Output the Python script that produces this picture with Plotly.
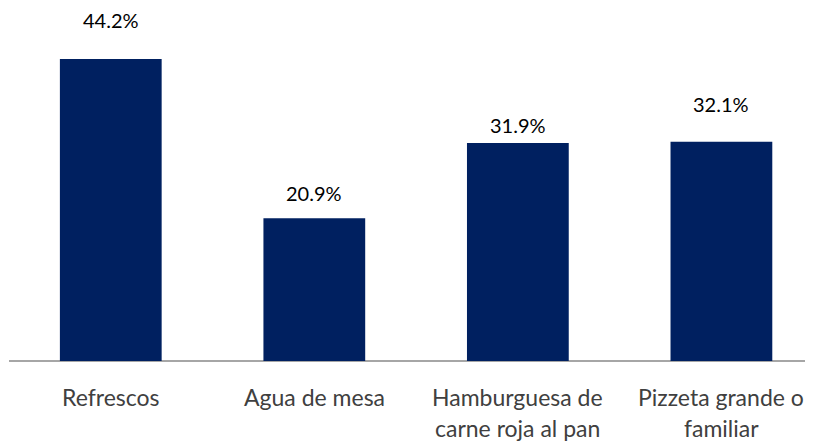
import plotly.graph_objects as go

# Datos
categorias = ["Refrescos", "Agua de mesa", "Hamburguesa de<br>carne roja al pan", "Pizzeta grande o<br>familiar"]
valores = [44.2, 20.9, 31.9, 32.1]
etiquetas = ["44.2%", "20.9%", "31.9%", "32.1%"]

# desplazamiento (px) de cada etiqueta sobre su barra
desplaz = [39, 25, 18, 38]

AZUL = "#002060"
FUENTE = "Lato"

trace = go.Bar(
    x=list(range(len(categorias))),
    y=valores,
    width=0.5,
    marker=dict(color=AZUL, line=dict(width=0)),
    hoverinfo="skip",
)

fig = go.Figure(data=[trace])

for i, (v, t, d) in enumerate(zip(valores, etiquetas, desplaz)):
    fig.add_annotation(
        x=i, y=v, text=t, showarrow=False,
        yanchor="middle", yshift=d,
        font=dict(family=FUENTE, size=20, color="#000000"),
    )
    # etiquetas de categoria, una linea por anotacion
    for j, linea in enumerate(categorias[i].split("<br>")):
        fig.add_annotation(
            x=i, y=0, yref="y", text=linea, showarrow=False,
            yanchor="middle", yshift=-36 - 31 * j,
            font=dict(family=FUENTE, size=23, color="#404040"),
        )

fig.update_layout(
    width=805,
    height=433,
    plot_bgcolor="white",
    paper_bgcolor="white",
    margin={"l": 1, "r": 0, "t": 0, "b": 80},
    showlegend=False,
    xaxis=dict(
        range=[-0.5, 3.45],
        showticklabels=False,
        showgrid=False,
        zeroline=False,
        showline=False,
        fixedrange=True,
    ),
    yaxis=dict(
        range=[0, 51.66],
        showticklabels=False,
        showgrid=False,
        zeroline=True,
        zerolinecolor="#A6A6A6",
        zerolinewidth=1.5,
        showline=False,
        fixedrange=True,
    ),
)

fig.write_html("out.html", config={"displayModeBar": False})
